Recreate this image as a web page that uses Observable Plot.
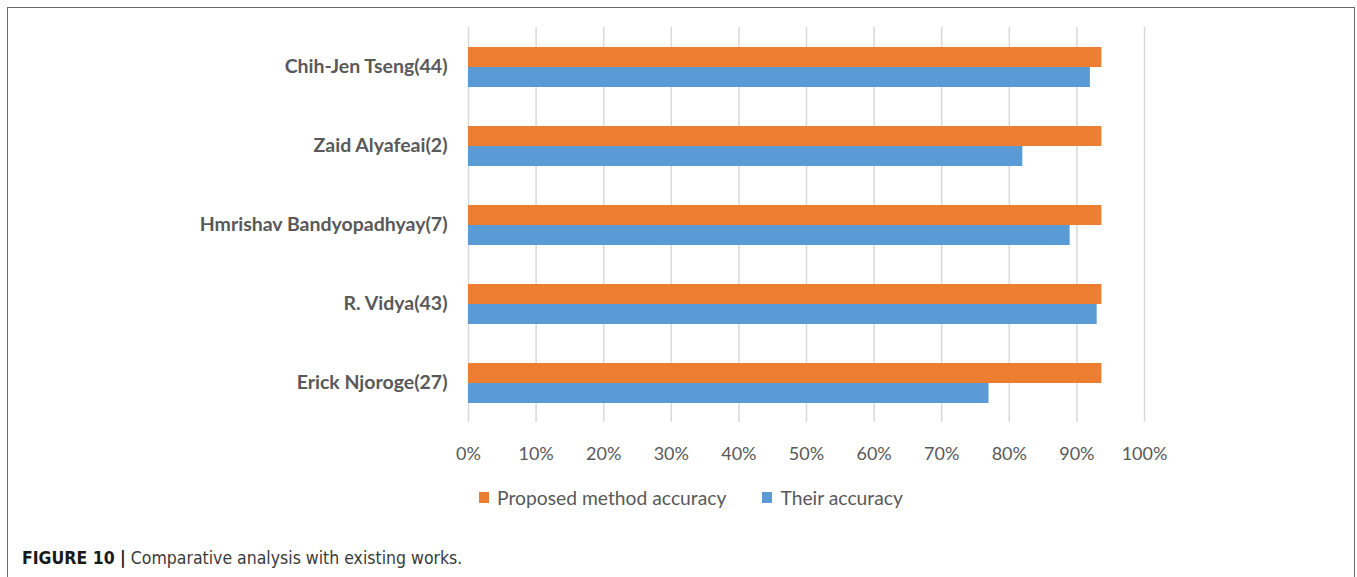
<!DOCTYPE html>
<html>
<head>
<meta charset="utf-8">
<script src="https://cdn.jsdelivr.net/npm/d3@7"></script>
<script src="https://cdn.jsdelivr.net/npm/@observablehq/plot@0.6"></script>
<style>
  html, body { margin: 0; padding: 0; background: #fff; }
  body { width: 1357px; height: 577px; overflow: hidden; position: relative; }
  #frame {
    position: absolute; left: 7px; top: 7px; width: 1348px; height: 620px;
    border: 1.5px solid #6b6b6b; box-sizing: border-box;
  }
  #chart { position: absolute; left: 0; top: 0; }
  #legend {
    position: absolute; left: 479px; top: 486px;
    font-family: Lato, "Open Sans", sans-serif; font-size: 19.3px; color: #595959;
    display: flex; align-items: center; white-space: nowrap;
  }
  #legend .item { display: flex; align-items: center; margin-right: 36px; }
  #legend .sw { width: 10px; height: 11px; margin-right: 8px; display: inline-block; }
  #caption {
    position: absolute; left: 22px; top: 548px;
    font-family: "Liberation Sans Narrow", "DejaVu Sans Condensed", "Liberation Sans", sans-serif;
    font-size: 17.5px; color: #3a3a3a; white-space: nowrap;
  }
  #caption b { color: #1a1a1a; }
</style>
</head>
<body>
<div id="frame"></div>
<div id="chart"></div>
<div id="legend"></div>
<div id="caption"><b>FIGURE 10 |</b> Comparative analysis with existing works.</div>
<script>
// Works compared, top to bottom
const authors = [
  "Chih-Jen Tseng(44)",
  "Zaid Alyafeai(2)",
  "Hmrishav Bandyopadhyay(7)",
  "R. Vidya(43)",
  "Erick Njoroge(27)"
];
// Accuracy (%) of the proposed method on each comparison
const proposedAccuracy = [93.7, 93.7, 93.7, 93.7, 93.7];
// Accuracy (%) reported by each existing work
const theirAccuracy = [92, 82, 89, 93, 77];

const seriesNames = ["Proposed method accuracy", "Their accuracy"];
const seriesColors = ["#ED7D31", "#5B9BD5"];
const xTicks = [0, 10, 20, 30, 40, 50, 60, 70, 80, 90, 100];

const rows = authors.flatMap((a, i) => [
  {author: a, series: seriesNames[0], value: proposedAccuracy[i]},
  {author: a, series: seriesNames[1], value: theirAccuracy[i]}
]);

const chart = Plot.plot({
  width: 1357,
  height: 475,
  marginLeft: 468,
  marginRight: 213,
  marginTop: 26,
  marginBottom: 52,
  style: {background: "transparent"},
  x: {domain: [0, 100], ticks: xTicks, tickFormat: d => d + "%", label: null},
  fy: {domain: authors, padding: 0, label: null},
  y: {domain: seriesNames, paddingInner: 0, paddingOuter: 0.89, axis: null},
  color: {domain: seriesNames, range: seriesColors},
  marks: [
    Plot.gridX(xTicks, {stroke: "#d9d9d9", strokeOpacity: 1, strokeWidth: 1.5}),
    Plot.barX(rows, {x: "value", y: "series", fy: "author", fill: "series"}),
    Plot.axisX({ticks: xTicks, tickFormat: d => d + "%", tickSize: 0, tickPadding: 25,
      fontSize: 18, fontFamily: "Lato, 'Open Sans', sans-serif", fill: "#595959", label: null}),
    Plot.axisFy({anchor: "left", tickSize: 0, tickPadding: 21, fontSize: 19.5, fontWeight: "bold",
      fontFamily: "Lato, 'Open Sans', sans-serif", fill: "#595959", label: null})
  ]
});
document.getElementById("chart").appendChild(chart);

// Legend swatches
const legend = document.getElementById("legend");
seriesNames.forEach((name, i) => {
  const item = document.createElement("span");
  item.className = "item";
  const sw = document.createElement("span");
  sw.className = "sw";
  sw.style.background = seriesColors[i];
  item.appendChild(sw);
  item.appendChild(document.createTextNode(name));
  legend.appendChild(item);
});
</script>
</body>
</html>
